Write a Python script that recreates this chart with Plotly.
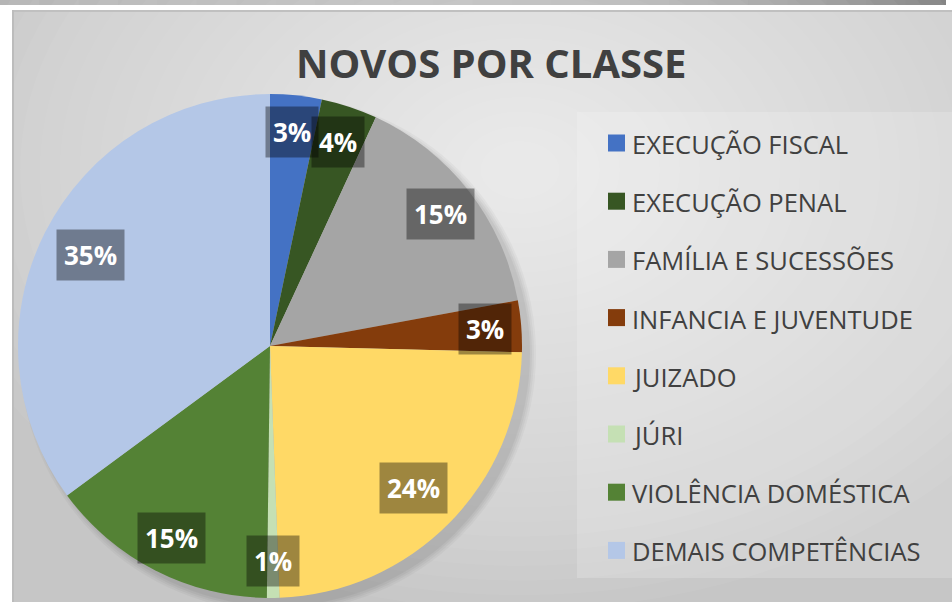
import math
import plotly.graph_objects as go

# ---- data ----
categories = ["EXECUÇÃO FISCAL", "EXECUÇÃO PENAL", "FAMÍLIA E SUCESSÕES",
              "INFANCIA E JUVENTUDE", "JUIZADO", "JÚRI",
              "VIOLÊNCIA DOMÉSTICA", "DEMAIS COMPETÊNCIAS"]
shares = [3.3, 3.6, 15.2, 3.3, 24.0, 0.8, 14.7, 35.1]
colors = ["#4472C4", "#375623", "#A5A5A5", "#843C0C",
          "#FFD966", "#C5E0B4", "#548235", "#B4C7E7"]
title_text = "NOVOS POR CLASSE"

# ---- layout geometry (pixels) ----
W, H = 952, 602
CX, CY, R = 270, 346, 252
def px(x):
    return x / W
def py(y):
    return 1 - y / H

fig = go.Figure()
fig.add_trace(go.Pie(
    labels=categories, values=shares, sort=False, direction="clockwise",
    rotation=0, marker=dict(colors=colors, line=dict(width=0)),
    textinfo="none", hoverinfo="label+percent", showlegend=False,
    domain=dict(x=[px(CX - R), px(CX + R)], y=[py(CY + R), py(CY - R)]),
))

shapes = []
# top dark bar (approximate gradient)
n_seg = 24
for i in range(n_seg):
    t = i / (n_seg - 1)
    c = int(175 - 75 * t)
    shapes.append(dict(type="rect", xref="paper", yref="paper", layer="below",
                       x0=px(945 * i / n_seg), x1=px(945 * (i + 1) / n_seg + 1),
                       y0=py(5), y1=py(0), line=dict(width=0),
                       fillcolor=f"rgb({c},{c},{c})"))
# chart area base
shapes.append(dict(type="rect", xref="paper", yref="paper", layer="below",
                   x0=px(12), x1=1, y0=0, y1=py(10),
                   line=dict(width=0), fillcolor="#c6c6c6"))
# radial highlight
levels = 30
for i in range(levels):
    f = 1 - i / levels
    rx, ry = 600 * f, 440 * f
    shapes.append(dict(type="circle", xref="paper", yref="paper", layer="below",
                       x0=px(520 - rx), x1=px(520 + rx),
                       y0=py(170 + ry), y1=py(170 - ry),
                       line=dict(width=0), fillcolor="rgba(255,255,255,0.045)"))
# top border of chart area
shapes.append(dict(type="rect", xref="paper", yref="paper", layer="below",
                   x0=px(12), x1=1, y0=py(12), y1=py(10),
                   line=dict(width=0), fillcolor="#c0c0c0"))
# left edge
shapes.append(dict(type="rect", xref="paper", yref="paper", layer="below",
                   x0=px(12), x1=px(14), y0=0, y1=py(10),
                   line=dict(width=0), fillcolor="#bcbcbc"))
# pie shadow (soft, toward bottom-right)
for k, a in [(6, 0.03), (4, 0.035), (2, 0.04), (0, 0.045)]:
    shapes.append(dict(type="circle", xref="paper", yref="paper", layer="below",
                       x0=px(CX - R - k + 8), x1=px(CX + R + k + 8),
                       y0=py(CY + R + k + 8), y1=py(CY - R - k + 8),
                       line=dict(width=0), fillcolor=f"rgba(0,0,0,{a})"))
# legend box
shapes.append(dict(type="rect", xref="paper", yref="paper", layer="below",
                   x0=px(577), x1=1, y0=py(578), y1=py(112),
                   line=dict(width=0), fillcolor="rgba(255,255,255,0.18)"))

annotations = []
# legend entries
row0, row_gap = 143, 58.2
for i, (lab, col) in enumerate(zip(categories, colors)):
    yc = row0 + row_gap * i
    shapes.append(dict(type="rect", xref="paper", yref="paper",
                       x0=px(608), x1=px(625), y0=py(yc + 8.5), y1=py(yc - 8.5),
                       line=dict(width=0), fillcolor=col))
    annotations.append(dict(xref="paper", yref="paper", x=px(630), y=py(yc + 1),
                            xanchor="left", yanchor="middle", showarrow=False,
                            text=lab, font=dict(family="Open Sans", size=25.5,
                                                color="#404040")))

# percentage labels, placed from the slice angles
total = sum(shares)
cum = 0.0
for v in shares:
    mid = (cum + v / 2) / total * 2 * math.pi
    cum += v
    frac = 0.80 if v / total >= 0.2 else 0.855
    lx = CX + frac * R * math.sin(mid)
    ly = CY - frac * R * math.cos(mid)
    annotations.append(dict(xref="paper", yref="paper", x=px(lx), y=py(ly),
                            xanchor="center", yanchor="middle", showarrow=False,
                            text=f"<b>{round(v / total * 100)}%</b>",
                            bgcolor="rgba(0,0,0,0.38)", borderpad=7,
                            font=dict(family="Open Sans", size=26, color="white")))

# title
annotations.append(dict(xref="paper", yref="paper", x=px(491), y=py(62),
                        xanchor="center", yanchor="middle", showarrow=False,
                        text=f"<b>{title_text}</b>",
                        font=dict(family="Open Sans", size=40, color="#404040")))

fig.update_layout(
    width=W, height=H, margin=dict(l=0, r=0, t=0, b=0),
    paper_bgcolor="white", plot_bgcolor="white",
    shapes=shapes, annotations=annotations,
)
fig.write_html("out.html", config={"displayModeBar": False},
               post_script="document.body.style.margin='0';document.body.style.overflow='hidden';")
